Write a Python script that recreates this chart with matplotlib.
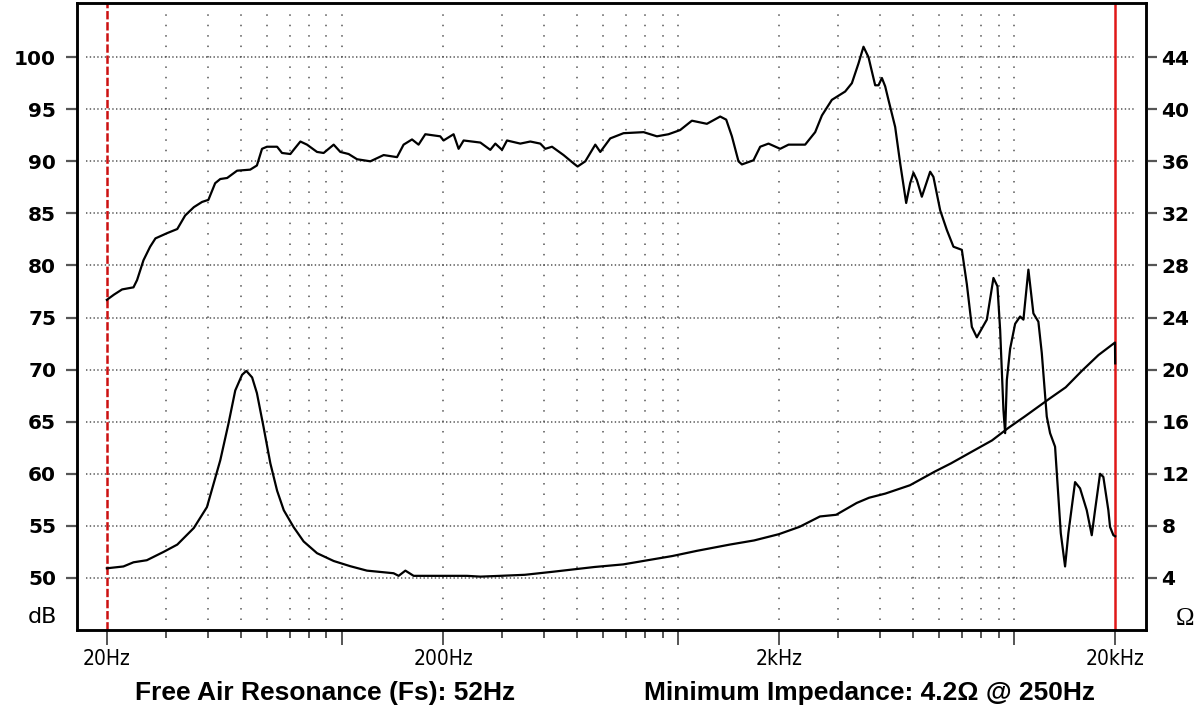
import matplotlib.pyplot as plt
from matplotlib.ticker import NullFormatter

plt.rcParams['lines.scale_dashes'] = False

# SPL response (dB)
spl_freq = [20.0, 21.0, 22.2, 24.0, 24.6, 25.7, 26.9, 27.9, 30.2, 32.4,
            34.2, 36.3, 38.4, 40.1, 42.0, 43.5, 45.6, 48.8, 53.4, 55.9,
            57.9, 59.9, 64.2, 66.4, 70.3, 71.9, 75.3, 78.8, 84.4, 88.3,
            94.6, 99.0, 104.8, 111, 121.6, 133.2, 146, 152.7, 161.8, 169.2,
            177.2, 196.3, 200.8, 210.2, 215.1, 222.6, 230.4, 258.4, 276.6, 286.3,
            299.7, 310.1, 339.7, 363.8, 389.6, 403.2, 422.1, 456.9, 489.4, 503,
            530.3, 567.8, 587.6, 629.1, 689, 790.5, 866.2, 937.7, 1015.5, 1100.7,
            1219.8, 1336, 1392.3, 1447.6, 1514.5, 1550.4, 1678.4, 1757.3, 1860.2, 2015,
            2134, 2391, 2561, 2682, 2871, 3145, 3293, 3446, 3566, 3690,
            3863, 3952, 4045, 4137, 4231, 4430, 4585, 4777, 4910, 5022,
            5140, 5318, 5630, 5758, 6030, 6313, 6604, 6995, 7239, 7491,
            7752, 8302, 8686, 8927, 9094, 9302, 9410, 9520, 9737, 10077,
            10427, 10665, 11036, 11420, 11817, 12095, 12515, 12803, 13248, 13553,
            13777, 14188, 14513, 15193, 15722, 16459, 17033, 17422, 18030, 18442,
            19085, 19306, 19752, 20000]
spl_db = [76.7, 77.2, 77.7, 77.9, 78.6, 80.5, 81.8, 82.6, 83.1, 83.5,
          84.8, 85.6, 86.1, 86.3, 87.9, 88.3, 88.4, 89.1, 89.2, 89.6,
          91.2, 91.4, 91.4, 90.8, 90.7, 91.1, 91.9, 91.6, 90.9, 90.8,
          91.6, 90.9, 90.7, 90.2, 90.0, 90.6, 90.4, 91.6, 92.1, 91.6,
          92.6, 92.4, 92.0, 92.4, 92.6, 91.2, 92.0, 91.8, 91.1, 91.7,
          91.1, 92.0, 91.7, 91.9, 91.7, 91.2, 91.4, 90.6, 89.8, 89.5,
          90.0, 91.6, 90.9, 92.2, 92.7, 92.8, 92.4, 92.6, 93.0, 93.9,
          93.6, 94.3, 94.0, 92.4, 90.0, 89.7, 90.1, 91.4, 91.7, 91.2,
          91.6, 91.6, 92.8, 94.4, 95.9, 96.7, 97.5, 99.4, 101.0, 100.0,
          97.3, 97.3, 98.0, 97.2, 95.9, 93.3, 89.8, 86.0, 87.9, 88.9,
          88.2, 86.6, 89.0, 88.5, 85.3, 83.4, 81.8, 81.5, 78.2, 74.1,
          73.1, 74.8, 78.8, 78.0, 73.8, 66.1, 63.9, 69.0, 72.0, 74.4,
          75.1, 74.8, 79.6, 75.4, 74.6, 71.6, 65.5, 63.9, 62.6, 57.8,
          54.3, 51.1, 54.3, 59.2, 58.6, 56.5, 54.1, 56.5, 60.0, 59.7,
          56.5, 54.9, 54.1, 54.0]

# impedance (ohm)
imp_freq = [20.0, 22.4, 24.0, 26.3, 29.5, 32.4, 36.3, 39.7, 41.6, 43.5,
            46.0, 48.2, 50.5, 52.0, 54.1, 55.9, 58.5, 61.3, 64.2, 67.2,
            71.9, 77.0, 84.4, 94.6, 106, 118.8, 142.6, 147.6, 154.6, 163.6,
            235.8, 258.4, 296.2, 350.5, 426.7, 564.9, 687.8, 813.2, 961.8, 1139,
            1426, 1686, 1997, 2299, 2646, 2957, 3405, 3706, 4143, 4904,
            5803, 6494, 7470, 8599, 9617, 10763, 12735, 14249, 15940, 17836,
            19971, 20000]
imp_ohm = [4.74, 4.88, 5.2, 5.36, 6.0, 6.56, 7.84, 9.44, 11.28, 13.04,
           15.84, 18.4, 19.6, 19.9, 19.4, 18.2, 15.6, 12.8, 10.7, 9.2,
           7.9, 6.8, 5.9, 5.3, 4.9, 4.56, 4.36, 4.16, 4.56, 4.16,
           4.16, 4.1, 4.16, 4.24, 4.48, 4.84, 5.04, 5.36, 5.68, 6.08,
           6.56, 6.88, 7.36, 7.92, 8.72, 8.85, 9.76, 10.16, 10.48, 11.12,
           12.16, 12.8, 13.68, 14.56, 15.52, 16.4, 17.76, 18.64, 19.92, 21.12,
           22.08, 20.48]

db_ticks = [50, 55, 60, 65, 70, 75, 80, 85, 90, 95, 100]
ohm_ticks = [4, 8, 12, 16, 20, 24, 28, 32, 36, 40, 44]
freq_major = [20, 100, 200, 1000, 2000, 10000, 20000]
freq_labels = ['20Hz', '', '200Hz', '', '2kHz', '', '20kHz']
freq_minor = [30, 40, 50, 60, 70, 80, 90, 300, 400, 500, 600, 700, 800, 900,
              3000, 4000, 5000, 6000, 7000, 8000, 9000]
grid_freqs = [30, 40, 50, 60, 70, 80, 90, 100, 200, 300, 400, 500, 600, 700, 800, 900,
              1000, 2000, 3000, 4000, 5000, 6000, 7000, 8000, 9000, 10000]

fs = 52
z_min = 4.2
z_min_freq = 250

fig = plt.figure(figsize=(12.03, 7.11), dpi=100)
ax = fig.add_axes([77/1203, 1 - 630/711, 1069/1203, 627/711])
ax.set_xscale('log')
ax.set_xlim(16.3, 24700)
ax.set_ylim(45, 105.2)

# dotted grid
for v in db_ticks:
    ax.axhline(v, xmin=0.008, xmax=0.99, color='#555555', lw=1.1,
               ls=(0, (1.0, 1.7)), zorder=1)
ax.vlines(grid_freqs, 46, 104.2, color='#555555', lw=1.1,
          ls=(0, (1.1, 6.4)), zorder=1)

ax.axvline(20, color='#cc1010', lw=1.8, ls=(0, (6, 2)), zorder=2)
ax.axvline(20000, color='#e01818', lw=1.8, zorder=2)

ax.plot(spl_freq, spl_db, color='black', lw=1.6, zorder=3)

ax.set_xticks(freq_major, labels=freq_labels)
ax.set_xticks(freq_minor, minor=True)
ax.xaxis.set_minor_formatter(NullFormatter())
ax.tick_params(axis='x', which='major', direction='out', length=11, width=1.4,
               color='#555555', pad=3)
ax.tick_params(axis='x', which='minor', direction='out', length=6, width=1.4,
               color='#555555')
for lab in ax.get_xticklabels():
    lab.set_family('DejaVu Sans')
    lab.set_stretch('condensed')
    lab.set_fontsize(15)

ax.set_yticks(db_ticks)
ax.tick_params(axis='y', direction='out', length=8, width=1.6, color='#555555',
               pad=7, labelsize=14.5)
for lab in ax.get_yticklabels():
    lab.set_fontweight('bold')

ax2 = ax.twinx()
ax2.set_ylim((45 - 45) * 0.8, (105.2 - 45) * 0.8)
ax2.plot(imp_freq, imp_ohm, color='black', lw=1.6, zorder=3)
ax2.set_yticks(ohm_ticks)
ax2.tick_params(axis='y', direction='out', length=8, width=1.6, color='#555555',
                pad=3, labelsize=14.5)
for lab in ax2.get_yticklabels():
    lab.set_fontweight('bold')

for a in (ax, ax2):
    for s in a.spines.values():
        s.set_linewidth(1.8)
        s.set_color('black')

fig.text(57/1203, 1 - 617/711, 'dB', ha='right', va='center', fontsize=16)
fig.text(1185/1203, 1 - 619/711, 'Ω', ha='center', va='center', fontsize=18,
         family='Liberation Serif')
fig.text(325/1203, 1 - 693/711, f'Free Air Resonance (Fs): {fs}Hz',
         ha='center', va='center', fontsize=19, fontweight='bold',
         family='Liberation Sans')
fig.text(869/1203, 1 - 693/711, f'Minimum Impedance: {z_min}Ω @ {z_min_freq}Hz',
         ha='center', va='center', fontsize=19, fontweight='bold',
         family='Liberation Sans')

fig.savefig('out.png', dpi=100)
